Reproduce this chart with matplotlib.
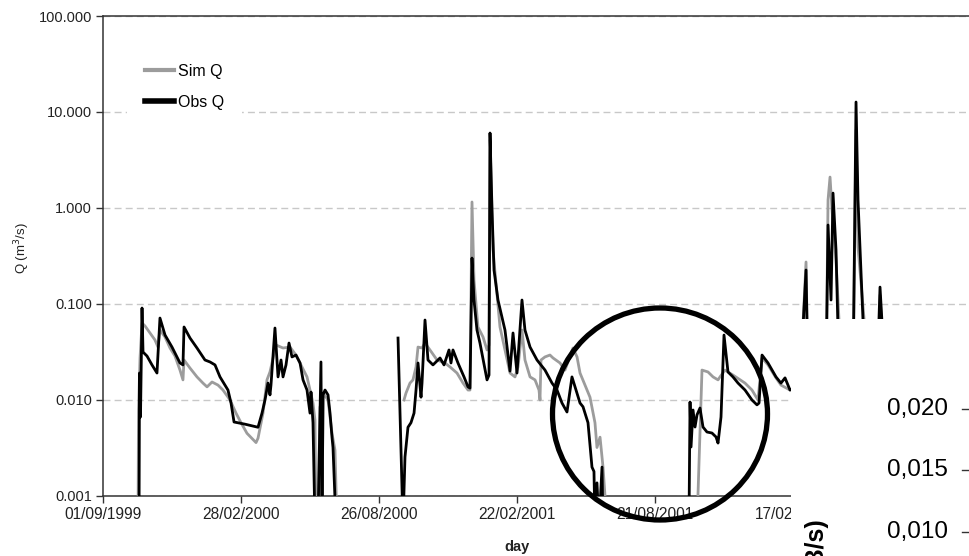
import numpy as np
import matplotlib
matplotlib.use("Agg")
import matplotlib.pyplot as plt
import matplotlib.dates as mdates
from matplotlib.patches import Ellipse, Rectangle
from matplotlib.lines import Line2D
from datetime import datetime

plt.rcParams['font.family'] = ['Liberation Sans', 'DejaVu Sans']

# days after 01/09/1999, discharge in m3/s (0.0005 = dry, below the axis)
obs_day = [47.0, 47.6, 48.9, 50.9, 52.2, 57.4, 63.9, 70.4, 74.3, 80.9, 90.0, 96.5,
           100.4, 104.3, 105.7, 113.5, 122.6, 133.0, 139.6, 146.1, 152.6, 163.0,
           167.0, 170.9, 185.2, 202.2, 207.4, 211.3, 215.2, 217.8, 219.1, 224.3,
           228.3, 232.2, 234.8, 238.7, 242.6, 246.5, 251.7, 257.0, 260.9, 266.1,
           270.0, 271.3, 273.9, 276.5, 280.4, 284.3, 285.7, 287.0, 289.6, 293.5,
           296.1, 298.7, 300.0, 303.9, 305.2,
           384.8, 391.3, 393.9, 397.8, 401.7, 405.7, 408.3, 410.9, 414.8, 416.1,
           420.0, 423.9, 430.4, 439.6, 444.8, 451.3, 453.9, 456.5, 463.0, 470.9,
           476.1, 478.7, 481.3, 483.9, 487.8, 491.7, 500.9, 503.5, 504.8, 507.4,
           510.0, 515.2, 524.3, 530.9, 534.8, 540.0, 546.5, 550.4, 557.0, 566.1,
           576.5, 585.7, 592.2, 598.7, 605.2, 611.7, 615.7, 622.2, 626.1, 628.7,
           632.6, 637.8, 640.4, 641.7, 644.3, 647.0, 650.9, 652.2,
           764.3, 765.7, 767.0, 769.6, 772.2, 774.8, 778.7, 782.6, 787.8, 794.3,
           799.6, 802.2, 806.1, 810.0, 815.2, 821.7, 828.3, 837.4, 846.5, 853.0,
           855.7, 859.6, 867.4, 877.8, 884.3, 889.6, 896.1, 909.1, 917.0, 919.6,
           928.7, 943.0, 945.7, 949.6, 952.2, 956.1, 958.7, 967.8, 978.3, 982.2,
           984.8, 991.3, 1000.4, 1009.6, 1013.5, 1017.4, 1026.5, 1065.7, 1117.8,
           1170.0]
obs_q = [0.0005, 0.0191, 0.00665, 0.0908, 0.0316, 0.0287, 0.0232, 0.0191, 0.0714,
         0.0475, 0.0356, 0.0281, 0.0243, 0.0232, 0.0576, 0.0442, 0.0348, 0.0261,
         0.0249, 0.0232, 0.0174, 0.0127, 0.0093, 0.0059, 0.0056, 0.0052, 0.0073,
         0.0100, 0.0150, 0.0113, 0.0143, 0.0562, 0.0174, 0.0261, 0.0174, 0.0232,
         0.0392, 0.0281, 0.0294, 0.0243, 0.0162, 0.0127, 0.0073, 0.0121, 0.0058,
         0.0005, 0.0005, 0.0249, 0.0005, 0.0113, 0.0127, 0.0113, 0.0073, 0.0041,
         0.0032, 0.0005, np.nan,
         0.0442, 0.0005, 0.00255, 0.0052, 0.0058, 0.0073, 0.0127, 0.0243, 0.0107,
         0.0150, 0.0681, 0.0261, 0.0232, 0.0274, 0.0232, 0.0332, 0.0243, 0.0332,
         0.0243, 0.0174, 0.0137, 0.0133, 0.301, 0.110, 0.0536, 0.0392, 0.0162,
         0.0182, 6.04, 0.953, 0.226, 0.110, 0.0536, 0.0200, 0.0499, 0.0191, 0.110,
         0.0536, 0.0356, 0.0261, 0.0205, 0.0150, 0.0127, 0.0093, 0.0075, 0.0174,
         0.0137, 0.0093, 0.0085, 0.0073, 0.0058, 0.0020, 0.0018, 0.0005, 0.00137,
         0.0005, 0.0020, 0.0005,
         0.0005, 0.00953, 0.00324, 0.00787, 0.00523, 0.0070, 0.00825, 0.00523,
         0.00464, 0.00453, 0.00412, 0.00356, 0.00665, 0.0475, 0.0196, 0.0174,
         0.0150, 0.0127, 0.0100, 0.0089, 0.0093, 0.0294, 0.0243, 0.0174, 0.0150,
         0.0170, 0.0127, 0.0143, 0.226, 0.0162, 0.0127, 0.0143, 0.665, 0.110,
         1.43, 0.365, 0.0536, 0.0205, 0.0162, 12.7, 1.21, 0.0681, 0.0261, 0.0162,
         0.150, 0.0422, 0.0162, 0.0113, 0.0100, 0.0100]

sim_day = [45.7, 46.3, 48.3, 50.9, 54.8, 61.3, 67.8, 71.7, 74.3, 80.9, 87.4, 93.9,
           100.4, 104.3, 105.7, 113.5, 122.6, 130.4, 135.7, 142.2, 150.0, 156.5,
           165.7, 173.5, 180.0, 187.8, 199.6, 202.2, 208.7, 213.9, 217.8, 225.7,
           234.8, 243.9, 251.7, 259.6, 266.1, 270.0, 273.9, 276.5, 277.8, 280.4,
           283.0, 285.7, 287.0, 293.5, 298.7, 302.6, 305.2, 306.0,
           392.6, 395.2, 400.4, 404.3, 408.3, 410.9, 416.1, 420.0, 426.5, 435.7,
           446.1, 452.6, 461.7, 469.6, 476.1, 478.7, 481.3, 483.9, 489.1, 495.7,
           500.9, 503.5, 504.8, 508.7, 517.8, 524.3, 530.9, 537.4, 541.3, 546.5,
           550.4, 557.0, 563.5, 568.7, 570.0, 571.3, 576.5, 583.0, 587.0, 596.1,
           602.6, 613.0, 618.3, 622.2, 635.2, 641.7, 644.3, 648.3, 652.2, 657.4,
           774.8, 781.3, 789.1, 795.7, 802.2, 804.8, 811.3, 821.7, 837.4, 846.5,
           854.3, 859.6, 867.4, 877.8, 884.3, 896.1, 909.1, 917.0, 919.6, 943.0,
           945.7, 948.3, 950.9, 956.1, 961.3, 978.3, 982.2, 984.8, 993.9, 1010.9,
           1013.5, 1017.4, 1026.5, 1065.7, 1170.0]
sim_q = [0.0005, 0.00787, 0.0274, 0.0634, 0.059, 0.0499, 0.0422, 0.0356, 0.0536,
         0.0453, 0.0348, 0.0287, 0.0205, 0.0162, 0.0261, 0.0215, 0.0174, 0.0150,
         0.0137, 0.0154, 0.0143, 0.0127, 0.0100, 0.0073, 0.0058, 0.0045, 0.0036,
         0.0040, 0.0073, 0.0162, 0.0196, 0.0374, 0.0348, 0.0356, 0.0294, 0.0221,
         0.0174, 0.0127, 0.0093, 0.0062, 0.0005, 0.0005, 0.0085, 0.0005, 0.0118,
         0.0100, 0.0045, 0.0030, 0.0005, np.nan,
         0.0100, 0.0118, 0.0150, 0.0162, 0.0221, 0.0356, 0.0348, 0.0392, 0.0332,
         0.0261, 0.0243, 0.0221, 0.0191, 0.0150, 0.0127, 0.0127, 1.155, 0.178,
         0.0576, 0.0453, 0.0332, 0.0374, 5.11, 0.365, 0.0576, 0.0332, 0.0191,
         0.0174, 0.0221, 0.0536, 0.0261, 0.0174, 0.0162, 0.0127, 0.0100, 0.0261,
         0.0281, 0.0294, 0.0274, 0.0243, 0.0205, 0.0348, 0.0281, 0.0191, 0.0107,
         0.0058, 0.0032, 0.0041, 0.0020, 0.0005,
         0.0005, 0.0205, 0.0196, 0.0174, 0.0162, 0.0174, 0.0205, 0.0182, 0.0150,
         0.0127, 0.0100, 0.0274, 0.0232, 0.0170, 0.0143, 0.0127, 0.0143, 0.274,
         0.0162, 0.0143, 1.21, 2.10, 0.953, 0.287, 0.0422, 0.0162, 6.49, 0.392,
         0.0536, 0.0162, 0.124, 0.0332, 0.0162, 0.0113, 0.0100]

tick_step = 180
y_ticks = [0.001, 0.01, 0.1, 1, 10, 100]
inset_labels = ['0,020', '0,015', '0,010']

W, H = 970, 556
fig = plt.figure(figsize=(W / 100, H / 100), dpi=100)
ax = fig.add_axes([103 / W, 60 / H, 897 / W, 480 / H])

t0 = mdates.date2num(datetime(1999, 9, 1))
ax.plot(t0 + np.array(sim_day), sim_q, color='#9c9c9c', lw=2.0, label='Sim Q', zorder=3)
ax.plot(t0 + np.array(obs_day), obs_q, color='black', lw=2.0, label='Obs Q', zorder=4)

ax.set_yscale('log')
ax.set_ylim(0.001, 100)
ax.set_xlim(t0, t0 + 1170)
ax.set_yticks(y_ticks)
ax.set_yticklabels(['%.3f' % v for v in y_ticks])
ax.yaxis.set_minor_locator(matplotlib.ticker.NullLocator())
ax.set_xticks(t0 + np.arange(0, 901, tick_step))
ax.xaxis.set_major_formatter(mdates.DateFormatter('%d/%m/%Y'))
ax.tick_params(direction='out', length=5, width=1, color='#333333',
               labelcolor='#222222', labelsize=10.5, pad=3)
ax.tick_params(axis='x', labelsize=11.2)

ax.grid(axis='y', color='#c8c8c8', lw=1, linestyle=(0, (5, 3)))
ax.set_axisbelow(True)
for s in ['left', 'bottom', 'top']:
    ax.spines[s].set_color('#333333')
    ax.spines[s].set_linewidth(1.1)
ax.spines['right'].set_visible(False)

ax.set_ylabel('Q (m$^3$/s)', fontsize=9.5, color='#222222')
ax.yaxis.set_label_coords(-71 / 897, (496 - 248) / 480)
ax.set_xlabel('day', fontsize=10.5, fontweight='bold', color='#222222')
ax.xaxis.set_label_coords((517 - 103) / 897, -(540 - 496) / 480)

leg = ax.legend(loc='upper left', bbox_to_anchor=(16 / 897, 1 - 22 / 480),
                frameon=True, facecolor='white', edgecolor='none', framealpha=1,
                fontsize=11.5, handlelength=1.85, handletextpad=0.25,
                labelspacing=1.0, borderpad=1.1)
leg.get_lines()[0].set_linewidth(3)
leg.get_lines()[1].set_linewidth(4)
leg.set_zorder(5)

# hand-drawn circle
fig.add_artist(Ellipse((660 / W, 1 - 414 / H), 215 / W, 212 / H,
                       transform=fig.transFigure, fill=False, lw=3.8,
                       edgecolor='black', zorder=4))

# pasted piece of another chart at the lower right
fig.add_artist(Rectangle((791 / W, 0), (W - 791) / W, (H - 319) / H,
                         transform=fig.transFigure, facecolor='white',
                         edgecolor='none', zorder=5))
for lab, yp in zip(inset_labels, [409, 470, 532]):
    fig.text(948 / W, 1 - yp / H, lab, ha='right', va='center', fontsize=17.5,
             color='black', zorder=6)
    fig.add_artist(Line2D([962 / W, 1.0], [1 - yp / H, 1 - yp / H],
                          transform=fig.transFigure, color='#333333', lw=1, zorder=6))
fig.text(816 / W, 1 - 517 / H, '(m3/s)', rotation=90, ha='center', va='top',
         fontsize=18, fontweight='bold', color='black', zorder=6)

fig.savefig('out.png', dpi=100)
